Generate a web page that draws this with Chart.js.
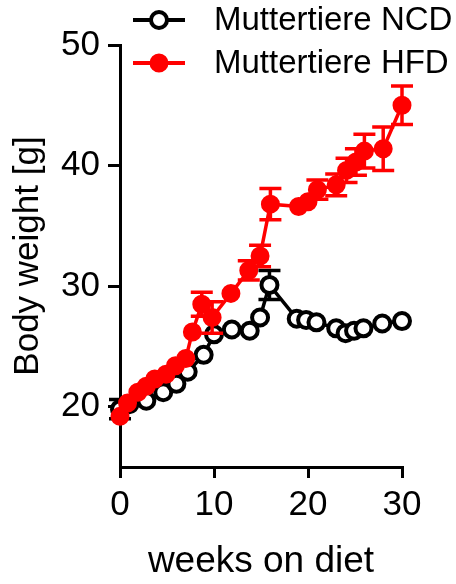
<!DOCTYPE html>
<html>
<head>
<meta charset="utf-8">
<script src="https://cdn.jsdelivr.net/npm/chart.js@4.4.1/dist/chart.umd.min.js"></script>
<style>
  html, body { margin: 0; padding: 0; background: #fff; }
  #wrap { width: 456px; height: 584px; }
</style>
</head>
<body>
<div id="wrap"><canvas id="weightChart" width="456" height="584"></canvas></div>
<script>
// Muttertiere NCD (open black circles)
const weeksNCD = [0, 1, 2.8, 4.6, 6, 7.2, 8.9, 10, 11.9, 13.8, 14.9, 15.9, 18.8, 19.8, 20.9, 23, 24, 24.9, 25.9, 27.9, 30];
const weightNCD = [19.8, 20.2, 20.5, 21.2, 21.9, 22.9, 24.3, 26.0, 26.4, 26.3, 27.4, 30.1, 27.3, 27.2, 27.0, 26.5, 26.1, 26.3, 26.5, 26.9, 27.1];
const errNCD = [0.8, 0.3, 0.3, 0.3, 0.3, 0.3, 0.4, 0.5, 0.4, 0.4, 0.6, 1.2, 0.5, 0.4, 0.4, 0.4, 0.4, 0.4, 0.4, 0.4, 0.4];

// Muttertiere HFD (filled red circles)
const weeksHFD = [0, 0.8, 1.9, 2.8, 3.7, 4.9, 5.9, 7, 7.7, 8.7, 9.8, 11.8, 13.7, 14.9, 16, 19, 20, 21, 23, 24.1, 25.1, 26, 28, 30];
const weightHFD = [19.2, 20.3, 21.2, 21.7, 22.3, 22.7, 23.4, 24.0, 26.2, 28.5, 27.4, 29.4, 31.3, 32.5, 36.8, 36.6, 37.0, 38.0, 38.4, 39.6, 40.3, 41.2, 41.4, 45.0];
const errHFD = [0.3, 0.3, 0.3, 0.3, 0.3, 0.4, 0.4, 0.5, 0.6, 1.0, 1.3, 0.6, 0.8, 0.9, 1.3, 0.7, 0.7, 0.8, 0.9, 1.0, 1.1, 1.4, 1.8, 1.6];

const xTicks = [0, 10, 20, 30];
const yTicks = [20, 30, 40, 50];

const toPoints = (xs, ys) => xs.map((x, i) => ({ x: x, y: ys[i] }));

// draws the vertical SEM bars with caps, behind each dataset's markers;
// bars shorter than the marker are hidden (like Prism does)
const errorBarPlugin = {
  id: 'errorBars',
  beforeDatasetDraw(chart, args) {
    const ds = chart.data.datasets[args.index];
    if (!ds.errors) return;
    const xs = chart.scales.x, ys = chart.scales.y;
    const ctx = chart.ctx;
    ctx.save();
    ctx.strokeStyle = ds.borderColor;
    ctx.lineWidth = 3.5;
    ds.data.forEach((p, i) => {
      const e = ds.errors[i];
      const px = xs.getPixelForValue(p.x);
      const py = ys.getPixelForValue(p.y);
      const top = ys.getPixelForValue(p.y + e);
      const bot = ys.getPixelForValue(p.y - e);
      if (py - top < ds.pointRadius) return;
      ctx.beginPath();
      ctx.moveTo(px, top); ctx.lineTo(px, bot);
      ctx.moveTo(px - 11, top); ctx.lineTo(px + 11, top);
      ctx.moveTo(px - 11, bot); ctx.lineTo(px + 11, bot);
      ctx.stroke();
    });
    ctx.restore();
  }
};

// legend sits above the plot, overlapping the top of the y axis
const topLegendPlugin = {
  id: 'topLegend',
  afterDraw(chart) {
    const ctx = chart.ctx;
    ctx.save();
    chart.data.datasets.forEach((ds, i) => {
      const y = 20 + i * 43;
      ctx.strokeStyle = ds.borderColor;
      ctx.lineWidth = 4;
      ctx.beginPath();
      ctx.moveTo(133, y); ctx.lineTo(185, y);
      ctx.stroke();
      ctx.beginPath();
      ctx.arc(159, y, ds.pointRadius, 0, Math.PI * 2);
      ctx.fillStyle = ds.pointBackgroundColor;
      ctx.fill();
      ctx.lineWidth = ds.pointBorderWidth;
      ctx.stroke();
      ctx.fillStyle = '#000';
      ctx.font = '33px "Liberation Sans", Arial, sans-serif';
      ctx.textBaseline = 'middle';
      ctx.textAlign = 'left';
      ctx.fillText(ds.label, 214, y + 1);
    });
    ctx.restore();
  }
};

Chart.defaults.font.family = '"Liberation Sans", Arial, sans-serif';
Chart.defaults.color = '#000';

function initializeWeightChart() {
  const ctx = document.getElementById('weightChart').getContext('2d');
  new Chart(ctx, {
    type: 'line',
    data: {
      datasets: [{
        label: 'Muttertiere NCD',
        data: toPoints(weeksNCD, weightNCD),
        errors: errNCD,
        borderColor: '#000000',
        backgroundColor: '#ffffff',
        pointBackgroundColor: '#ffffff',
        pointBorderColor: '#000000',
        pointRadius: 8,
        pointBorderWidth: 4,
        borderWidth: 3.5,
        order: 1,
        clip: false
      }, {
        label: 'Muttertiere HFD',
        data: toPoints(weeksHFD, weightHFD),
        errors: errHFD,
        borderColor: '#ff0000',
        backgroundColor: '#ff0000',
        pointBackgroundColor: '#ff0000',
        pointBorderColor: '#ff0000',
        pointRadius: 8.5,
        pointBorderWidth: 2,
        borderWidth: 3.5,
        order: 0,
        clip: false
      }]
    },
    options: {
      responsive: false,
      animation: false,
      layout: { padding: { top: 45, right: 54, bottom: 0, left: 0 } },
      plugins: {
        legend: { display: false },
        tooltip: { enabled: false }
      },
      scales: {
        x: {
          type: 'linear',
          min: 0,
          max: 30,
          afterBuildTicks: (scale) => { scale.ticks = xTicks.map(v => ({ value: v })); },
          afterFit: (scale) => { scale.height = 117; },
          grid: { drawOnChartArea: false, drawTicks: true, tickLength: 11, color: '#000', lineWidth: 3 },
          border: { display: true, color: '#000', width: 3 },
          ticks: { font: { size: 35 }, padding: 6, maxRotation: 0 },
          title: { display: true, text: 'weeks on diet', font: { size: 37 }, padding: { top: 0, bottom: 0 } }
        },
        y: {
          min: 15,
          max: 50,
          afterBuildTicks: (scale) => { scale.ticks = yTicks.map(v => ({ value: v })); },
          afterFit: (scale) => { scale.width = 120; },
          grid: { drawOnChartArea: false, drawTicks: true, tickLength: 12, color: '#000', lineWidth: 3 },
          border: { display: true, color: '#000', width: 3 },
          ticks: { font: { size: 35 }, padding: 8 },
          title: { display: true, text: 'Body weight [g]', font: { size: 35 }, padding: { top: 7, bottom: 0 } }
        }
      }
    },
    plugins: [errorBarPlugin, topLegendPlugin]
  });
}

document.addEventListener('DOMContentLoaded', () => {
  initializeWeightChart();
});
</script>
</body>
</html>
